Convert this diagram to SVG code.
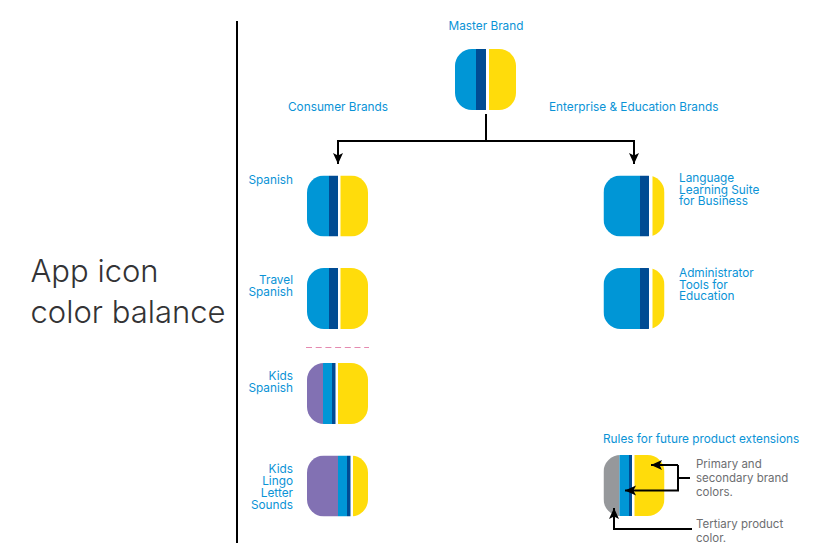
<svg xmlns="http://www.w3.org/2000/svg" width="818" height="553" viewBox="0 0 818 553">
<style>
text{font-family:Inter,"Liberation Sans",sans-serif}
.l{font-size:11.800px;fill:#0a93d6}
.g{font-size:11.500px;fill:#6d6e71}
.t{font-size:31px;fill:#333335;font-weight:300}
.c{fill:none;stroke:#000;stroke-width:2}
.b{fill:#0096d6}.n{fill:#004b93}.y{fill:#ffdc0b}.p{fill:#8271b3}.a{fill:#96989b}
</style>
<defs>
<clipPath id="ic"><rect width="61" height="61" rx="17"/></clipPath>
<marker id="ah" markerUnits="userSpaceOnUse" markerWidth="12" markerHeight="12" refX="11" refY="5" orient="auto"><path d="M0 0L11 5L0 10L2.500 5Z" fill="#000"/></marker>
</defs>
<rect width="818" height="553" fill="#fff"/>
<path d="M237 21V543" stroke="#000" stroke-width="2" fill="none"/>
<text class="t" x="30.500" y="282">App icon</text>
<text class="t" x="30.500" y="323">color balance</text>
<g id="master"><text class="l" x="486" y="30" text-anchor="middle">Master Brand</text>
<g transform="translate(455 49)" clip-path="url(#ic)"><rect class="b" width="21" height="61"/><rect class="n" x="21" width="10" height="61"/><rect class="y" x="34" width="27" height="61"/></g></g>
<g id="consumer-heading"><text class="l" x="288" y="111">Consumer Brands</text></g>
<g id="enterprise-heading"><text class="l" x="549" y="111">Enterprise &amp; Education Brands</text></g>
<g id="spanish"><text class="l" x="293" y="184" text-anchor="end">Spanish</text>
<g transform="translate(307 175.500)" clip-path="url(#ic)"><rect class="b" width="22" height="61"/><rect class="n" x="22" width="9" height="61"/><rect class="y" x="33.500" width="28" height="61"/></g></g>
<g id="travel-spanish"><text class="l" text-anchor="end"><tspan x="293" y="284">Travel</tspan><tspan x="293" y="296">Spanish</tspan></text>
<g transform="translate(307 268)" clip-path="url(#ic)"><rect class="b" width="22" height="61"/><rect class="n" x="22" width="9" height="61"/><rect class="y" x="33.500" width="28" height="61"/></g></g>
<g id="kids-spanish"><text class="l" text-anchor="end"><tspan x="293" y="380">Kids</tspan><tspan x="293" y="392">Spanish</tspan></text>
<g transform="translate(307 363)" clip-path="url(#ic)"><rect class="p" width="16" height="61"/><rect class="b" x="16" width="9" height="61"/><rect class="n" x="25" width="3.500" height="61"/><rect class="y" x="31" width="30" height="61"/></g></g>
<g id="kids-lingo"><text class="l" text-anchor="end"><tspan x="293" y="473">Kids</tspan><tspan x="293" y="485">Lingo</tspan><tspan x="293" y="497">Letter</tspan><tspan x="293" y="509">Sounds</tspan></text>
<g transform="translate(307 455.500)" clip-path="url(#ic)"><rect class="p" width="31" height="61"/><rect class="b" x="31" width="9" height="61"/><rect class="n" x="40" width="3.500" height="61"/><rect class="y" x="46" width="15" height="61"/></g></g>
<g id="language-suite"><text class="l"><tspan x="679" y="182">Language</tspan><tspan x="679" y="193.500">Learning Suite</tspan><tspan x="679" y="205">for Business</tspan></text>
<g transform="translate(603.500 175.500)" clip-path="url(#ic)"><rect class="b" width="36.500" height="61"/><rect class="n" x="36.500" width="9" height="61"/><rect class="y" x="49" width="12" height="61"/></g></g>
<g id="admin-tools"><text class="l"><tspan x="679" y="277">Administrator</tspan><tspan x="679" y="288.500">Tools for</tspan><tspan x="679" y="300">Education</tspan></text>
<g transform="translate(603.500 268)" clip-path="url(#ic)"><rect class="b" width="36.500" height="61"/><rect class="n" x="36.500" width="9" height="61"/><rect class="y" x="49" width="12" height="61"/></g></g>
<g id="rules"><text class="l" x="603" y="443">Rules for future product extensions</text>
<g transform="translate(603.500 455)" clip-path="url(#ic)"><rect class="a" width="16" height="61"/><rect class="b" x="16" width="9.500" height="61"/><rect class="n" x="25.500" width="3" height="61"/><rect class="y" x="31" width="30" height="61"/></g>
<text class="g"><tspan x="696" y="468">Primary and</tspan><tspan x="696" y="482">secondary brand</tspan><tspan x="696" y="496">colors.</tspan></text>
<text class="g"><tspan x="696" y="528">Tertiary product</tspan><tspan x="696" y="542">color.</tspan></text></g>
<g id="connectors">
<path class="c" d="M486 114V141H338V164" marker-end="url(#ah)"/>
<path class="c" d="M486 141H634V164" marker-end="url(#ah)"/>
<path d="M306 347.500H369" stroke="#e58ab0" stroke-width="1" stroke-dasharray="6 3.700" fill="none"/>
<path class="c" d="M678 465V490.500H625" marker-end="url(#ah)"/>
<path class="c" d="M678 465H651" marker-end="url(#ah)"/>
<path class="c" d="M690 478H678"/>
<path class="c" d="M692 529H614V508" marker-end="url(#ah)"/>
</g>
</svg>
